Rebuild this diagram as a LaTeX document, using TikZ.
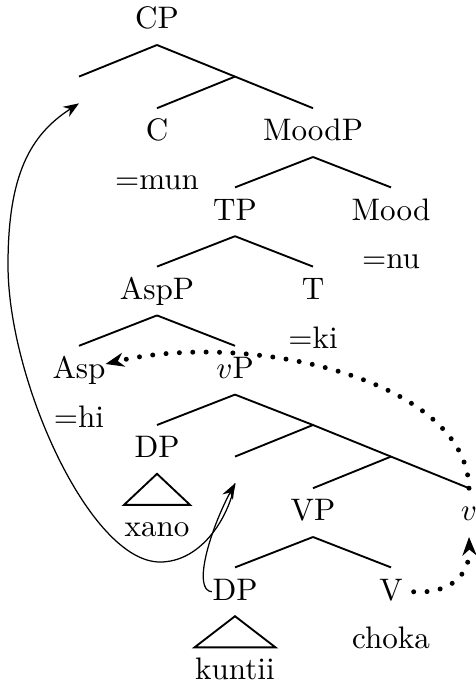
\documentclass[tikz,border=0pt]{standalone}
\usepackage{tikz}
\usetikzlibrary{arrows.meta,positioning}

\begin{document}
\begin{tikzpicture}[x=0.3214pt,y=-0.3214pt,
    cat/.style={anchor=north,text height=6.95pt,text depth=1.67pt},
    slot/.style={anchor=north,inner sep=0pt,minimum height=8.2pt},
    roof/.style={inner sep=0pt,text height=10pt,text depth=0pt},
    branch/.style={line width=0.6pt},
    move/.style={line width=0.4pt,-{Stealth[length=5pt,width=3.8pt]}},
    headmove/.style={line width=1.6pt,line cap=round,dash pattern=on 0pt off 4.3pt,
        -{Stealth[length=6pt,width=4.6pt,line width=0.4pt]}}]
  \useasboundingbox (0,0) rectangle (476,683);
  % CP layer
  \node[cat,anchor=south] (cp) at (157,45) {CP};
  \node[slot] (spec) at (79,76.6) {};
  \coordinate (cbar) at (235,76.6);
  \node[cat] (c) at (157,108.2) {C};
  \node[cat] (moodp) at (313,108.2) {MoodP};
  \node[cat,below=0pt of c] (mun) {=mun};
  % MoodP, TP, AspP
  \node[cat] (tp) at (235,187.4) {TP};
  \node[cat] (mood) at (391,187.4) {Mood};
  \node[cat,below=0pt of mood] (nu) {=nu};
  \node[cat] (aspp) at (157,266.6) {AspP};
  \node[cat] (t) at (313,266.6) {T};
  \node[cat,below=0pt of t] (ki) {=ki};
  \node[cat] (asp) at (79,345.8) {Asp};
  \node[cat,below=0pt of asp] (hi) {=hi};
  \node[cat] (smallvp) at (235,345.8) {$v$P};
  % vP shell
  \node[cat] (dpa) at (157,425) {DP};
  \node[roof,anchor=north,below=10pt of dpa] (xano) {xano};
  \coordinate (vbar) at (313,425);
  \node[slot] (trace) at (235,456.6) {};
  \coordinate (vbarb) at (391,456.6);
  \node[cat] (bigvp) at (313,488.2) {VP};
  \node[cat] (lightv) at (469,488.2) {$v$};
  \node[cat] (dpb) at (235,567.4) {DP};
  \node[roof,anchor=north,below=10pt of dpb] (kuntii) {kuntii};
  \node[cat] (verb) at (391,567.4) {V};
  \node[cat,below=0pt of verb] (choka) {choka};

  % branches
  \draw[branch] (cp.south) -- (spec.north);
  \draw[branch] (cp.south) -- (cbar) -- (moodp.north);
  \draw[branch] (cbar) -- (c.north);
  \draw[branch] (moodp.south) -- (tp.north);
  \draw[branch] (moodp.south) -- (mood.north);
  \draw[branch] (tp.south) -- (aspp.north);
  \draw[branch] (tp.south) -- (t.north);
  \draw[branch] (aspp.south) -- (asp.north);
  \draw[branch] (aspp.south) -- (smallvp.north);
  \draw[branch] (smallvp.south) -- (dpa.north);
  \draw[branch] (smallvp.south) -- (vbar) -- (vbarb) -- (lightv.north);
  \draw[branch] (vbar) -- (trace.north);
  \draw[branch] (vbarb) -- (bigvp.north);
  \draw[branch] (bigvp.south) -- (dpb.north);
  \draw[branch] (bigvp.south) -- (verb.north);
  % roofs
  \draw[branch] (dpa.south) -- (xano.north west) -- (xano.north east) -- cycle;
  \draw[branch] (dpb.south) -- (kuntii.north west) -- (kuntii.north east) -- cycle;

  % phrasal movement
  \draw[move] ([xshift=3.3pt]dpb.west) .. controls (192,590) and (210,530) .. (trace.south);
  \draw[move] (trace.south) .. controls (228,520) and (200,562) .. (160,562)
      .. controls (90,562) and (8,380) .. (8,265)
      .. controls (8,175) and (30,135) .. (spec.south);
  % head movement
  \draw[headmove] (verb.east) .. controls (450,594) and (470,575) .. (lightv.south);
  \draw[headmove] (lightv.north) .. controls (467,380) and (250,330)
      .. ([xshift=-3.5pt,yshift=2pt]asp.east);
\end{tikzpicture}
\end{document}
